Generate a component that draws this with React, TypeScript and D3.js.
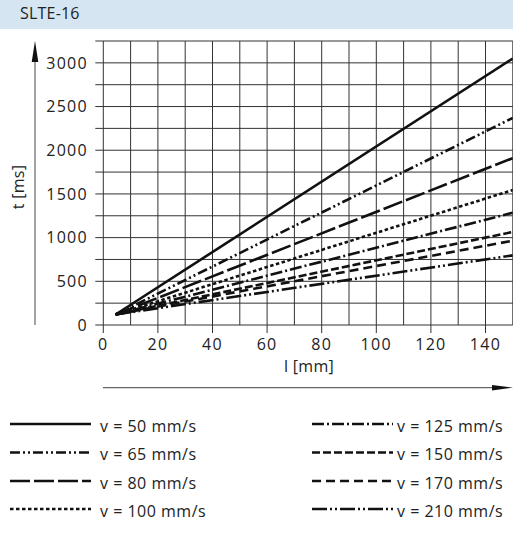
import React from "react";
import * as d3 from "d3";

const title = "SLTE-16";
const speeds = [50, 65, 80, 100, 125, 150, 170, 210];
const seriesLabels = speeds.map((v) => `v = ${v} mm/s`);
const startL = [4.5, 4.5, 4.5, 4.5, 4.5, 4.5, 4.5, 4.5];
const startT = [120, 120, 120, 120, 120, 120, 120, 120];
const endL = [150, 150, 150, 150, 150, 150, 150, 150];
const endT = [3050, 2370, 1910, 1545, 1285, 1065, 965, 797];
const dashes = ["", "10,3,2,3,2,3", "20,4", "3.5,2.5", "12,3,2,3", "8,3", "9,5", "15,3,2,3,2,3"];
const xTicks = [0, 20, 40, 60, 80, 100, 120, 140];
const yTicks = [0, 500, 1000, 1500, 2000, 2500, 3000];
const xGrid = d3.range(0, 151, 10);
const yGrid = d3.range(0, 3251, 250);

const W = 513;
const H = 533;
const FONT = "'Open Sans', sans-serif";

export default function App() {
  const x = d3.scaleLinear().domain([0, 150]).range([103.3, 512.8]);
  const y = d3.scaleLinear().domain([0, 3250]).range([325, 41]);
  const line = d3
    .line<[number, number]>()
    .x((d) => x(d[0]))
    .y((d) => y(d[1]));
  const textColor = "#222";
  const gridColor = "#333";

  const legendRows = [427, 455.5, 484, 512];

  return (
    <svg
      width={W}
      height={H}
      style={{ position: "absolute", left: 0, top: 0, background: "#fff" }}
      fontFamily={FONT}
    >
      <rect x={0} y={0} width={W} height={29} fill="#d5e6f2" />
      <text x={20} y={19} fontSize={16} fill={textColor} letterSpacing={0.2}>
        {title}
      </text>

      <defs>
        <clipPath id="plotclip">
          <rect x={x(0)} y={y(3250)} width={x(150) - x(0)} height={y(0) - y(3250)} />
        </clipPath>
      </defs>

      {/* grid */}
      {xGrid.map((v) => (
        <line
          key={"gx" + v}
          x1={x(v)}
          x2={x(v)}
          y1={y(3250)}
          y2={xTicks.includes(v) ? y(0) + 8 : y(0)}
          stroke={gridColor}
          strokeWidth={1}
        />
      ))}
      {yGrid.map((v) => (
        <line
          key={"gy" + v}
          x1={x(0) - 8}
          x2={x(150)}
          y1={y(v)}
          y2={y(v)}
          stroke={gridColor}
          strokeWidth={1}
        />
      ))}

      {/* tick labels */}
      {yTicks.map((v) => (
        <text
          key={"yt" + v}
          x={88}
          y={y(v)}
          dy="0.36em"
          textAnchor="end"
          fontSize={16}
          fill={textColor}
          letterSpacing={1.3}
        >
          {v}
        </text>
      ))}
      {xTicks.map((v) => (
        <text
          key={"xt" + v}
          x={x(v)}
          y={349.5}
          textAnchor="middle"
          fontSize={16}
          fill={textColor}
          letterSpacing={1.3}
        >
          {v}
        </text>
      ))}

      {/* axis titles */}
      <text
        transform={`translate(24,187) rotate(-90)`}
        textAnchor="middle"
        fontSize={16}
        fill={textColor}
        letterSpacing={0.3}
      >
        t [ms]
      </text>
      <text x={309} y={371.5} textAnchor="middle" fontSize={16} fill={textColor} letterSpacing={0.3}>
        l [mm]
      </text>

      {/* arrows */}
      <line x1={35} x2={35} y1={325} y2={55} stroke="#666" strokeWidth={1.2} />
      <path d="M35,41 L38.3,62 L31.7,62 Z" fill="#111" />
      <line x1={103} x2={500} y1={387.7} y2={387.7} stroke="#666" strokeWidth={1.2} />
      <path d="M513,387.7 L492,385 L492,390.4 Z" fill="#111" />

      {/* data lines */}
      <g clipPath="url(#plotclip)">
        {speeds.map((v, i) => (
          <path
            key={"s" + v}
            d={
              line([
                [startL[i], startT[i]],
                [endL[i], endT[i]],
              ]) || ""
            }
            fill="none"
            stroke="#111"
            strokeWidth={2.6}
            strokeDasharray={dashes[i] || undefined}
          />
        ))}
      </g>

      {/* legend */}
      {speeds.map((v, i) => {
        const col = i < 4 ? 0 : 1;
        const row = i % 4;
        const lx1 = col === 0 ? 10 : 312;
        const lx2 = lx1 + 81;
        const ty = legendRows[row];
        return (
          <g key={"lg" + v}>
            <line
              x1={lx1}
              x2={lx2}
              y1={ty - 3}
              y2={ty - 3}
              stroke="#111"
              strokeWidth={2.6}
              strokeDasharray={dashes[i] || undefined}
            />
            <text
              x={lx2 + (col === 0 ? 9 : 4)}
              y={ty}
              dy="0.3em"
              fontSize={16}
              fill={textColor}
              letterSpacing={0.5}
            >
              {seriesLabels[i]}
            </text>
          </g>
        );
      })}
    </svg>
  );
}
